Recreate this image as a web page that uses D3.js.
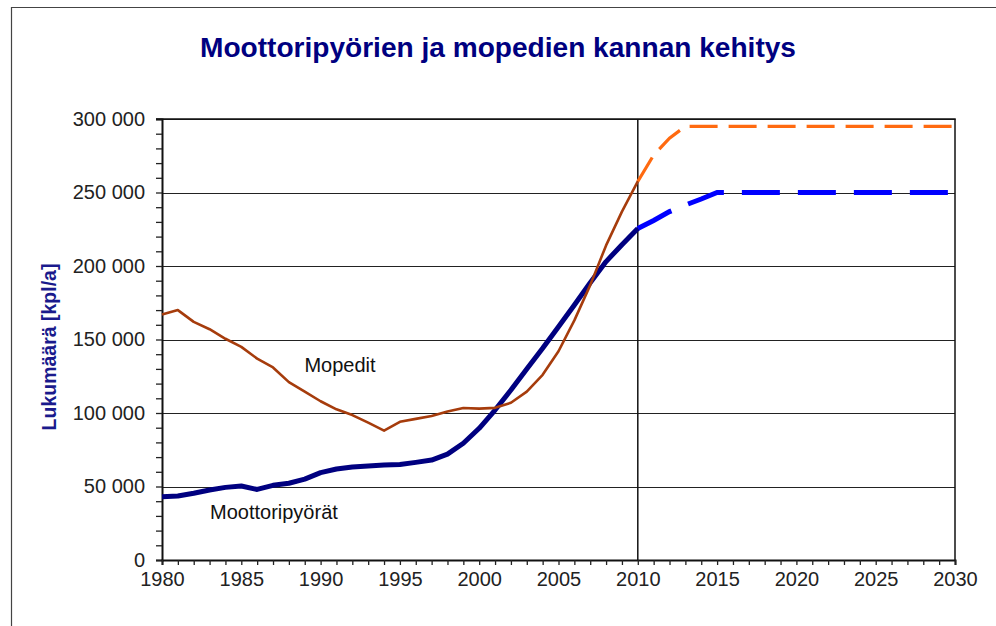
<!DOCTYPE html>
<html>
<head>
<meta charset="utf-8">
<script src="https://cdn.jsdelivr.net/npm/d3@7"></script>
<style>
  body { margin: 0; background: #fff; }
  text { font-family: Arial, "Liberation Sans", sans-serif; }
</style>
</head>
<body>
<div class="content"></div>
<script>
var size = {width: 996, height: 626};
var padding = {left: 162, right: 41, top: 119, bottom: 66};

// historical data 1980-2010
var years = d3.range(1980, 2011);
var moottoripyorat = [43, 43.5, 45.4, 47.6, 49.4, 50.3, 48, 50.8, 52.2, 55,
    59.4, 61.9, 63.3, 64, 64.6, 65, 66.4, 68, 72, 79.4,
    89.6, 102, 115.6, 130, 144, 158.7, 173.5, 188.6, 203, 214.5, 225.5];
var mopedit = [167, 170, 162, 157, 150.5, 145, 137, 131, 121, 114.5,
    108, 102.5, 98.6, 93.4, 88, 94, 96, 98, 101, 103.4,
    103, 103.5, 107, 114.5, 126, 142, 163, 187, 214, 237, 257.5];

// forecast 2010-2030
var ennusteVuodet = [2010, 2011, 2012, 2013, 2014, 2015, 2030];
var moottoripyoratEnnuste = [225.5, 231, 237, 241.5, 245.6, 250, 250];
var ennusteVuodetMopo = [2010, 2011, 2012, 2013, 2030];
var mopeditEnnuste = [257.5, 275.5, 287, 295, 295];

var yTicksMajor = d3.range(0, 300001, 50000);

var svg = d3.select('.content')
    .append('svg')
    .attr('width', size.width)
    .attr('height', size.height);

// outer frame (top + left edge)
svg.append('path')
    .attr('d', 'M11.5,' + size.height + 'V7.5H' + size.width)
    .attr('fill', 'none')
    .attr('stroke', '#444')
    .attr('stroke-width', 1.2);

var xScale = d3.scaleLinear()
    .domain([1980, 2030])
    .range([padding.left, size.width - padding.right]);
var yScale = d3.scaleLinear()
    .domain([0, 300000])
    .range([size.height - padding.bottom, padding.top]);

// title
svg.append('text')
    .attr('x', 498)
    .attr('y', 57)
    .attr('text-anchor', 'middle')
    .attr('font-size', 28)
    .attr('font-weight', 'bold')
    .attr('fill', '#000080')
    .attr('textLength', 596)
    .attr('lengthAdjust', 'spacingAndGlyphs')
    .text('Moottoripyörien ja mopedien kannan kehitys');

// gridlines
svg.append('g')
    .selectAll('line')
    .data(yTicksMajor.slice(1))
    .enter().append('line')
    .attr('x1', xScale(1980))
    .attr('x2', xScale(2030))
    .attr('y1', function(d) { return Math.round(yScale(d)) + 0.5; })
    .attr('y2', function(d) { return Math.round(yScale(d)) + 0.5; })
    .attr('stroke', '#222')
    .attr('stroke-width', 1);

// plot border right + 2010 line
svg.append('line')
    .attr('x1', xScale(2030)).attr('x2', xScale(2030))
    .attr('y1', yScale(300000)).attr('y2', yScale(0))
    .attr('stroke', '#111').attr('stroke-width', 1.5);
svg.append('line')
    .attr('x1', xScale(2010)).attr('x2', xScale(2010))
    .attr('y1', yScale(300000)).attr('y2', yScale(0))
    .attr('stroke', '#111').attr('stroke-width', 1.5);

var fmt = d3.formatLocale({decimal: ',', thousands: ' ', grouping: [3], currency: ['', '']}).format(',d');

// y axis: minor ticks every 10 000, labels every 50 000
var yAxis = d3.axisLeft(yScale)
    .tickValues(d3.range(0, 300001, 10000))
    .tickSize(6)
    .tickPadding(11)
    .tickFormat(function(d) { return d % 50000 === 0 ? fmt(d) : ''; });
var yAxisObj = svg.append('g')
    .attr('transform', 'translate(' + padding.left + ',0)')
    .call(yAxis);

// x axis: ticks every year, labels every 5
var xAxis = d3.axisBottom(xScale)
    .tickValues(d3.range(1980, 2031, 1))
    .tickSize(5)
    .tickPadding(7)
    .tickFormat(function(d) { return d % 5 === 0 ? d : ''; });
var xAxisObj = svg.append('g')
    .attr('transform', 'translate(0,' + (size.height - padding.bottom) + ')')
    .call(xAxis);

[yAxisObj, xAxisObj].forEach(function(ax) {
    ax.attr('font-size', 20).attr('font-family', 'Arial, "Liberation Sans", sans-serif');
    ax.select('.domain').attr('stroke', '#111').attr('stroke-width', 2);
    ax.selectAll('.tick line').attr('stroke', '#222').attr('stroke-width', 1.3);
    ax.selectAll('.tick text').attr('fill', '#222');
});

// top border
svg.append('line')
    .attr('x1', xScale(1980) - 6).attr('x2', xScale(2030) + 0.75)
    .attr('y1', yScale(300000)).attr('y2', yScale(300000))
    .attr('stroke', '#111').attr('stroke-width', 1.5);

// y axis title
svg.append('text')
    .attr('transform', 'translate(56,347) rotate(-90)')
    .attr('text-anchor', 'middle')
    .attr('font-size', 19.5)
    .attr('font-weight', 'bold')
    .attr('fill', '#1a1a8c')
    .text('Lukumäärä [kpl/a]');

var line = d3.line()
    .x(function(d) { return xScale(d[0]); })
    .y(function(d) { return yScale(d[1] * 1000); });

function zip(a, b) { return a.map(function(v, i) { return [v, b[i]]; }); }

var plot = svg.append('g');

plot.append('path')
    .attr('d', line(zip(ennusteVuodetMopo, mopeditEnnuste)))
    .attr('fill', 'none')
    .attr('stroke', '#ff6a10')
    .attr('stroke-width', 3.2)
    .attr('stroke-dasharray', '28,11');

plot.append('path')
    .attr('d', line(zip(ennusteVuodet, moottoripyoratEnnuste)))
    .attr('fill', 'none')
    .attr('stroke', '#0000ff')
    .attr('stroke-width', 5)
    .attr('stroke-dasharray', '38,18');

plot.append('path')
    .attr('d', line(zip(years, moottoripyorat)))
    .attr('fill', 'none')
    .attr('stroke', '#000080')
    .attr('stroke-width', 5)
    .attr('stroke-linejoin', 'round');

plot.append('path')
    .attr('d', line(zip(years, mopedit)))
    .attr('fill', 'none')
    .attr('stroke', '#a63c0c')
    .attr('stroke-width', 2.6)
    .attr('stroke-linejoin', 'round');

// series labels
svg.append('text')
    .attr('x', 340).attr('y', 372)
    .attr('text-anchor', 'middle')
    .attr('font-size', 20)
    .attr('fill', '#111')
    .text('Mopedit');
svg.append('text')
    .attr('x', 210).attr('y', 519)
    .attr('font-size', 20)
    .attr('fill', '#111')
    .text('Moottoripyörät');
</script>
</body>
</html>
